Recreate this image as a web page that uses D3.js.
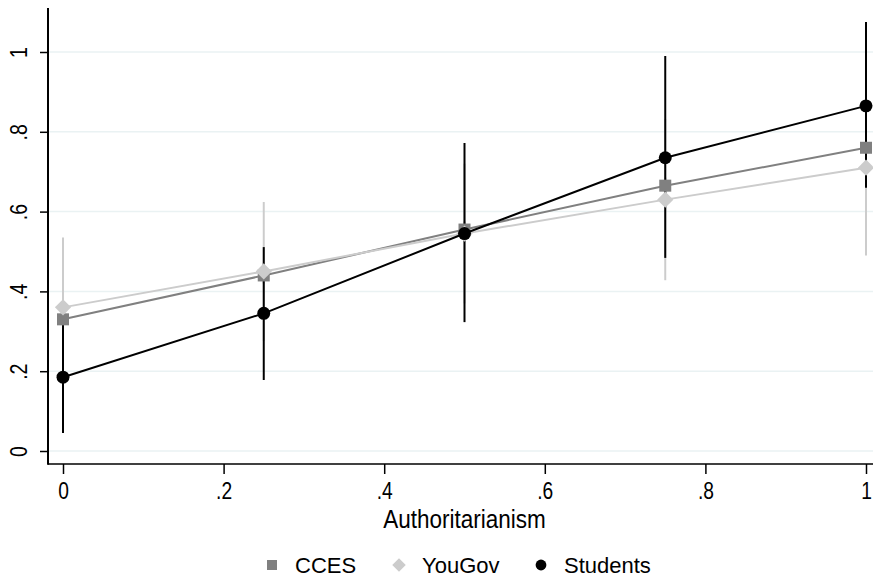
<!DOCTYPE html>
<html>
<head>
<meta charset="utf-8">
<script src="https://cdn.jsdelivr.net/npm/d3@7"></script>
<style>
  body { margin: 0; background: #fff; }
  text { font-family: "Liberation Sans", Arial, sans-serif; }
</style>
</head>
<body>
<div id="chart"></div>
<script>
var xValues = [0, 0.25, 0.5, 0.75, 1];
var yTicks = [0, 0.2, 0.4, 0.6, 0.8, 1];
var xTicks = [0, 0.2, 0.4, 0.6, 0.8, 1];
var seriesNames = ["CCES", "YouGov", "Students"];

var ccesMean = [0.33, 0.44, 0.555, 0.665, 0.76];
var ccesLo   = [0.31, 0.42, 0.535, 0.645, 0.74];
var ccesHi   = [0.35, 0.46, 0.575, 0.685, 0.78];

var yougovMean = [0.36, 0.45, 0.545, 0.63, 0.71];
var yougovLo   = [0.185, 0.276, 0.37, 0.428, 0.49];
var yougovHi   = [0.535, 0.624, 0.72, 0.832, 0.93];

var studentsMean = [0.185, 0.345, 0.545, 0.735, 0.865];
var studentsLo   = [0.045, 0.178, 0.323, 0.484, 0.66];
var studentsHi   = [0.325, 0.511, 0.772, 0.99, 1.075];

(function() {
    var svg = d3.select("#chart").append("svg")
        .attr("width", 873)
        .attr("height", 577);

    var box = {left: 48, right: 873, top: 8, bottom: 464};

    var x = d3.scaleLinear().domain([0, 1]).range([63, 866]);
    var y = d3.scaleLinear().domain([0, 1]).range([451, 52]);

    var fmt = function(d) {
        if (d === 0) return "0";
        if (d === 1) return "1";
        return String(d).replace("0.", ".");
    };

    // gridlines
    svg.selectAll(".gridline")
        .data(yTicks)
        .enter().append("line")
            .attr("class", "gridline")
            .attr("x1", box.left)
            .attr("x2", box.right)
            .attr("y1", function(d) { return y(d); })
            .attr("y2", function(d) { return y(d); })
            .attr("stroke", "#eaf2f3")
            .attr("stroke-width", 1.5);

    // y axis
    var yAxis = svg.append("g")
        .attr("transform", "translate(" + box.left + ",0)")
        .call(d3.axisLeft(y).tickValues(yTicks).tickFormat(fmt).tickSize(8).tickPadding(0));
    yAxis.select(".domain").remove();
    yAxis.selectAll(".tick line").attr("stroke", "#000").attr("stroke-width", 1.5);
    yAxis.selectAll(".tick text")
        .attr("x", 0).attr("dy", 0)
        .attr("transform", "translate(-21,0) rotate(-90) scale(0.85,1)")
        .attr("text-anchor", "middle")
        .attr("fill", "#000")
        .style("font-size", "23px");

    // x axis
    var xAxis = svg.append("g")
        .attr("transform", "translate(0," + box.bottom + ")")
        .call(d3.axisBottom(x).tickValues(xTicks).tickFormat(fmt).tickSize(10));
    xAxis.select(".domain").remove();
    xAxis.selectAll(".tick line").attr("stroke", "#000").attr("stroke-width", 1.5);
    xAxis.selectAll(".tick text")
        .attr("y", 35).attr("dy", 0)
        .attr("transform", "scale(0.8,1)")
        .attr("fill", "#000")
        .style("font-size", "24px");

    // axis lines
    svg.append("line")
        .attr("x1", box.left).attr("x2", box.left)
        .attr("y1", box.top).attr("y2", box.bottom + 0.75)
        .attr("stroke", "#000").attr("stroke-width", 2);
    svg.append("line")
        .attr("x1", box.left).attr("x2", box.right)
        .attr("y1", box.bottom).attr("y2", box.bottom)
        .attr("stroke", "#000").attr("stroke-width", 1.5);

    var titleX = (x(0) + x(1)) / 2;
    svg.append("text")
        .attr("transform", "translate(" + titleX + ",528) scale(0.9,1)")
        .attr("text-anchor", "middle")
        .style("font-size", "25px")
        .text("Authoritarianism");

    var series = [
        {name: seriesNames[0], mean: ccesMean, lo: ccesLo, hi: ccesHi, color: "#808080", shape: "square"},
        {name: seriesNames[1], mean: yougovMean, lo: yougovLo, hi: yougovHi, color: "#cccccc", shape: "diamond"},
        {name: seriesNames[2], mean: studentsMean, lo: studentsLo, hi: studentsHi, color: "#000000", shape: "circle"}
    ];

    function marker(sel, shape, color, cx, cy, r) {
        if (shape === "square") {
            sel.append("rect")
                .attr("x", cx - r).attr("y", cy - r)
                .attr("width", 2 * r).attr("height", 2 * r)
                .attr("fill", color);
        } else if (shape === "diamond") {
            var q = r * 1.35;
            sel.append("path")
                .attr("d", "M" + cx + "," + (cy - q) + "L" + (cx + q) + "," + cy +
                           "L" + cx + "," + (cy + q) + "L" + (cx - q) + "," + cy + "Z")
                .attr("fill", color);
        } else {
            sel.append("circle")
                .attr("cx", cx).attr("cy", cy).attr("r", r * 1.08)
                .attr("fill", color);
        }
    }

    // confidence intervals
    series.forEach(function(s) {
        svg.selectAll(".ci-" + s.shape)
            .data(xValues)
            .enter().append("line")
                .attr("class", "ci-" + s.shape)
                .attr("x1", function(d) { return x(d); })
                .attr("x2", function(d) { return x(d); })
                .attr("y1", function(d, i) { return y(s.lo[i]); })
                .attr("y2", function(d, i) { return y(s.hi[i]); })
                .attr("stroke", s.color)
                .attr("stroke-width", 2);
    });

    // lines + markers
    var line = d3.line()
        .x(function(d) { return x(d[0]); })
        .y(function(d) { return y(d[1]); });

    series.forEach(function(s) {
        var pts = xValues.map(function(v, i) { return [v, s.mean[i]]; });
        svg.append("path")
            .attr("d", line(pts))
            .attr("fill", "none")
            .attr("stroke", s.color)
            .attr("stroke-width", 2);
        var g = svg.append("g");
        pts.forEach(function(p) { marker(g, s.shape, s.color, x(p[0]), y(p[1]), 6); });
    });

    // legend
    var legendX = [272, 399, 541];
    series.forEach(function(s, i) {
        var g = svg.append("g");
        var cy = 565;
        marker(g, s.shape, s.color, legendX[i], cy, 5);
        g.append("text")
            .attr("x", legendX[i] + 23)
            .attr("y", cy + 8)
            .style("font-size", "22px")
            .text(s.name);
    });
})();
</script>
</body>
</html>
